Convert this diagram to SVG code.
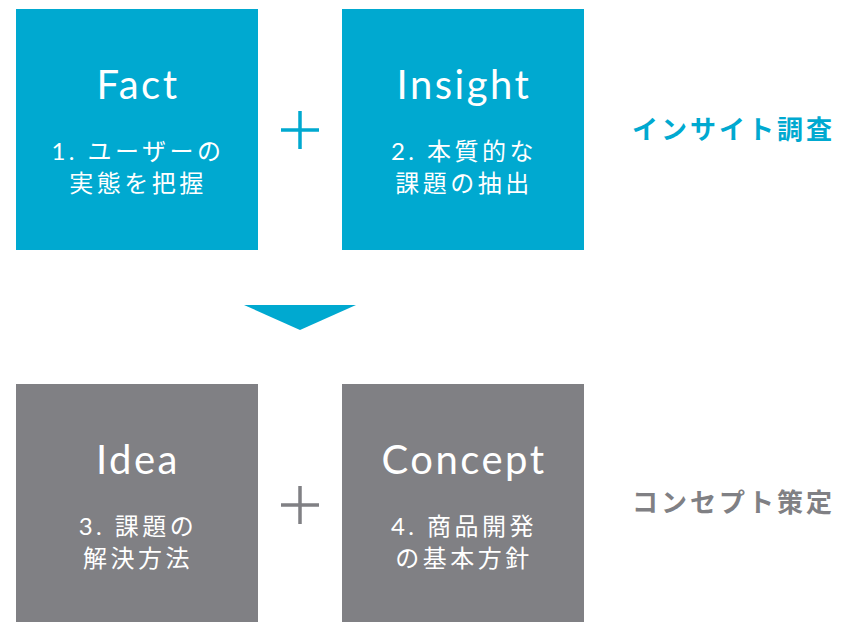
<svg xmlns="http://www.w3.org/2000/svg" width="850" height="622" viewBox="0 0 850 622">
<style>
.cy{fill:#00A9D0}
.gr{fill:#808084}
.t{font-family:Lato,"Noto Sans CJK JP",sans-serif;font-size:40px;fill:#fff;text-anchor:middle;letter-spacing:2.5px}
.s{font-family:Lato,"Noto Sans CJK JP",sans-serif;font-size:24px;fill:#fff;text-anchor:middle;letter-spacing:3.5px}
.lab{font-family:"Noto Sans CJK JP",sans-serif;font-size:26px;font-weight:bold;letter-spacing:3px}
.pc{stroke:#00A9D0;stroke-width:3.5;fill:none}
.pg{stroke:#808084;stroke-width:3.5;fill:none}
</style>
<rect width="850" height="622" fill="#fff"/>
<g id="fact">
<rect class="cy" x="16" y="9" width="242" height="241"/>
<text class="t" x="138" y="99">Fact</text>
<text class="s" x="138" y="160">1. ユーザーの</text>
<text class="s" x="138" y="192">実態を把握</text>
</g>
<g id="insight">
<rect class="cy" x="342" y="9" width="242" height="241"/>
<text class="t" x="464" y="99">Insight</text>
<text class="s" x="464" y="160">2. 本質的な</text>
<text class="s" x="464" y="192">課題の抽出</text>
</g>
<g id="idea">
<rect class="gr" x="16" y="384" width="242" height="241"/>
<text class="t" x="138" y="474">Idea</text>
<text class="s" x="138" y="535">3. 課題の</text>
<text class="s" x="138" y="567">解決方法</text>
</g>
<g id="concept">
<rect class="gr" x="342" y="384" width="242" height="241"/>
<text class="t" x="464" y="474">Concept</text>
<text class="s" x="464" y="535">4. 商品開発</text>
<text class="s" x="464" y="567">の基本方針</text>
</g>
<g id="connectors">
<path class="pc" d="M281 130H319M300 111V149"/>
<path class="pg" d="M281 505H319M300 486V524"/>
<polygon class="cy" points="244,305 356,305 300,330"/>
</g>
<g id="labels">
<text class="lab cy" x="632" y="139">インサイト調査</text>
<text class="lab gr" x="632" y="512">コンセプト策定</text>
</g>
</svg>
